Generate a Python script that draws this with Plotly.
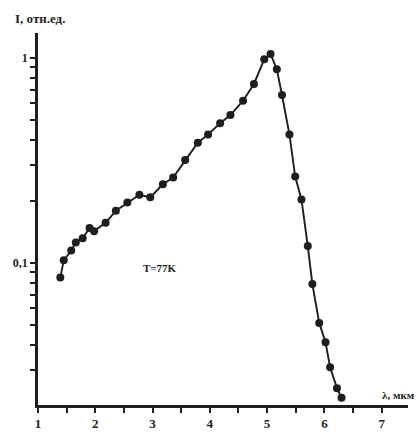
import math
import plotly.graph_objects as go

# Wavelength, um
wavelength = [1.39, 1.45, 1.58, 1.66, 1.78, 1.90, 1.98, 2.18, 2.36, 2.56, 2.77, 2.96,
              3.18, 3.36, 3.57, 3.79, 3.97, 4.18, 4.36, 4.58, 4.77, 4.95, 5.06, 5.17,
              5.26, 5.39, 5.49, 5.60, 5.71, 5.79, 5.91, 6.02, 6.10, 6.22, 6.30]
# Relative intensity
intensity = [0.085, 0.103, 0.115, 0.126, 0.132, 0.148, 0.143, 0.157, 0.180, 0.197, 0.215, 0.209,
             0.242, 0.261, 0.318, 0.386, 0.424, 0.480, 0.527, 0.619, 0.747, 0.986, 1.046, 0.881,
             0.660, 0.424, 0.264, 0.204, 0.121, 0.079, 0.051, 0.041, 0.031, 0.0245, 0.022]

x_ticks = [1, 1.5, 2, 2.5, 3, 3.5, 4, 4.5, 5, 5.5, 6, 6.5, 7]
x_tick_labels = ["1", "", "2", "", "3", "", "4", "", "5", "", "6", "", "7"]
y_ticks = [0.03, 0.04, 0.05, 0.06, 0.07, 0.08, 0.09, 0.1,
           0.2, 0.3, 0.4, 0.5, 0.6, 0.7, 0.8, 0.9, 1]
y_tick_labels = ["", "", "", "", "", "", "", "0,1",
                 "", "", "", "", "", "", "", "", "1"]

FONT = "Liberation Serif"
INK = "#1e1e1e"

fig = go.Figure()
fig.add_trace(go.Scatter(
    x=wavelength, y=intensity, mode="lines+markers",
    line=dict(color=INK, width=1.9),
    marker=dict(color=INK, size=8),
    showlegend=False,
))

fig.update_layout(
    width=419, height=441,
    margin=dict(l=38, r=11, t=33, b=36, autoexpand=False),
    paper_bgcolor="white", plot_bgcolor="white",
    font=dict(family=FONT, color=INK, size=12),
    xaxis=dict(
        range=[1, 7.46], tickmode="array", tickvals=x_ticks,
        ticktext=[f"<b>{t}</b>" if t else "" for t in x_tick_labels],
        showline=True, linecolor=INK, linewidth=2.5, mirror=False,
        ticks="outside", ticklen=5, tickwidth=2, tickcolor=INK,
        showgrid=False, zeroline=False, automargin=False,
        tickfont=dict(family=FONT, size=13, color=INK),
    ),
    yaxis=dict(
        type="log", range=[-1.693, 0.122],
        tickmode="array", tickvals=y_ticks,
        ticktext=[f"<b>{t}</b>" if t else "" for t in y_tick_labels],
        showline=True, linecolor=INK, linewidth=2.5,
        ticks="outside", ticklen=5, tickwidth=2, tickcolor=INK,
        showgrid=False, zeroline=False, automargin=False,
        tickfont=dict(family=FONT, size=12, color=INK),
    ),
    annotations=[
        dict(text="<b>I, отн.ед.</b>", xref="paper", yref="paper",
             x=-0.068, y=1.0, xanchor="left", yanchor="middle", yshift=15,
             showarrow=False, font=dict(family=FONT, size=13, color=INK)),
        dict(text="<b>λ, мкм</b>", xref="paper", yref="paper",
             x=1.024, y=0.0, xanchor="right", yanchor="middle", yshift=10,
             showarrow=False, font=dict(family=FONT, size=11, color=INK)),
        dict(text="<b>T=77K</b>", xref="x", yref="y",
             x=3.13, y=math.log10(0.095), xanchor="center", yanchor="middle",
             showarrow=False, font=dict(family=FONT, size=11, color=INK)),
    ],
)

fig.write_html(
    "out.html",
    config={"displayModeBar": False},
    post_script="document.body.style.margin='0';document.body.style.padding='0';",
)
